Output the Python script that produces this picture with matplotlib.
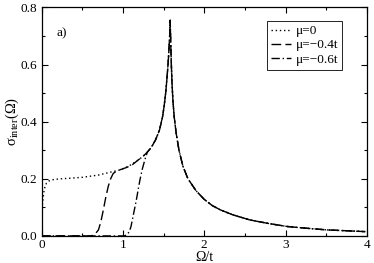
import numpy as np
import matplotlib
matplotlib.use('Agg')
import matplotlib.pyplot as plt
from matplotlib.ticker import MultipleLocator

plt.rcParams['font.family'] = ['Liberation Serif', 'DejaVu Serif']
plt.rcParams['mathtext.fontset'] = 'custom'
plt.rcParams['mathtext.rm'] = 'Liberation Serif'

# shared part of the curves (all three coincide above the onsets)
omega_tail = [1.3, 1.35, 1.4, 1.45, 1.49, 1.51, 1.53, 1.55, 1.56, 1.57, 1.577, 1.582,
              1.588, 1.596, 1.605, 1.615, 1.63, 1.655, 1.69, 1.737, 1.8, 1.9, 2.0,
              2.1, 2.2, 2.35, 2.56, 2.8, 3.02, 3.25, 3.51, 3.75, 3.98]
sigma_tail = [0.293, 0.31, 0.335, 0.37, 0.42, 0.46, 0.51, 0.58, 0.62, 0.67, 0.71, 0.755,
              0.68, 0.6, 0.53, 0.476, 0.42, 0.36, 0.3, 0.245, 0.2, 0.158, 0.128,
              0.106, 0.091, 0.074, 0.056, 0.043, 0.033, 0.027, 0.021, 0.018, 0.015]

omega_mu0 = [0.0, 0.015, 0.03, 0.045, 0.06, 0.09, 0.12, 0.2, 0.35, 0.5, 0.7, 0.86,
             0.95, 1.02, 1.1, 1.19, 1.25]
sigma_mu0 = [0.08, 0.12, 0.155, 0.175, 0.184, 0.192, 0.196, 0.199, 0.202, 0.205,
             0.213, 0.224, 0.23, 0.237, 0.249, 0.266, 0.279]

omega_mu04 = [0.0, 0.6, 0.63, 0.66, 0.70, 0.73, 0.76, 0.79, 0.82, 0.85, 0.88, 0.92,
              0.98, 1.05, 1.12, 1.19, 1.25]
sigma_mu04 = [0.0, 0.0, 0.002, 0.007, 0.021, 0.05, 0.091, 0.135, 0.173, 0.2, 0.218,
              0.227, 0.233, 0.24, 0.25, 0.266, 0.279]

omega_mu06 = [0.0, 1.02, 1.05, 1.08, 1.10, 1.13, 1.166, 1.19, 1.21, 1.24, 1.27]
sigma_mu06 = [0.0, 0.0, 0.004, 0.015, 0.033, 0.075, 0.126, 0.165, 0.196, 0.235, 0.266]

labels = ['μ=0', 'μ=−0.4t', 'μ=−0.6t']

fig = plt.figure(figsize=(3.74, 2.63), dpi=100)
ax = fig.add_axes([0.111, 0.103, 0.870, 0.869])

ax.plot(omega_mu0 + omega_tail, sigma_mu0 + sigma_tail, color='black', lw=1.0,
        linestyle=(0, (1, 2)), label=labels[0])
ax.plot(omega_mu04 + omega_tail, sigma_mu04 + sigma_tail, color='black', lw=1.0,
        linestyle=(0, (7, 3)), label=labels[1])
ax.plot(omega_mu06 + omega_tail, sigma_mu06 + sigma_tail, color='black', lw=1.0,
        linestyle=(0, (6, 2, 1, 2)), label=labels[2])

ax.set_xlim(0, 4)
ax.set_ylim(0, 0.8)
ax.xaxis.set_major_locator(MultipleLocator(1))
ax.xaxis.set_minor_locator(MultipleLocator(0.5))
ax.yaxis.set_major_locator(MultipleLocator(0.2))
ax.yaxis.set_minor_locator(MultipleLocator(0.1))
ax.set_yticks(ax.get_yticks())
ax.set_yticklabels(['%.1f' % v for v in ax.get_yticks()])
ax.set_ylim(0, 0.8)
ax.tick_params(which='both', direction='in', top=True, right=True, labelsize=9.5,
               width=0.8, pad=3)
ax.tick_params(axis='x', which='both', pad=2)
ax.tick_params(which='major', length=4.5)
ax.tick_params(which='minor', length=2.5)
for s in ax.spines.values():
    s.set_linewidth(0.9)

ax.set_xlabel('Ω/t', fontsize=10, labelpad=0.5)
ax.set_ylabel(r'σ$_{\rm inter}$(Ω)', fontsize=10.5, labelpad=0)
ax.text(0.19, 0.71, 'a)', fontsize=9.5, va='center')

leg = ax.legend(loc='upper right', bbox_to_anchor=(0.925, 0.94), fontsize=9.5,
                handlelength=1.5, handletextpad=0.4, borderpad=0.3, labelspacing=0.15,
                borderaxespad=0, fancybox=False, edgecolor='black', framealpha=1)
leg.get_frame().set_linewidth(0.6)

fig.savefig('out.png', dpi=100)
